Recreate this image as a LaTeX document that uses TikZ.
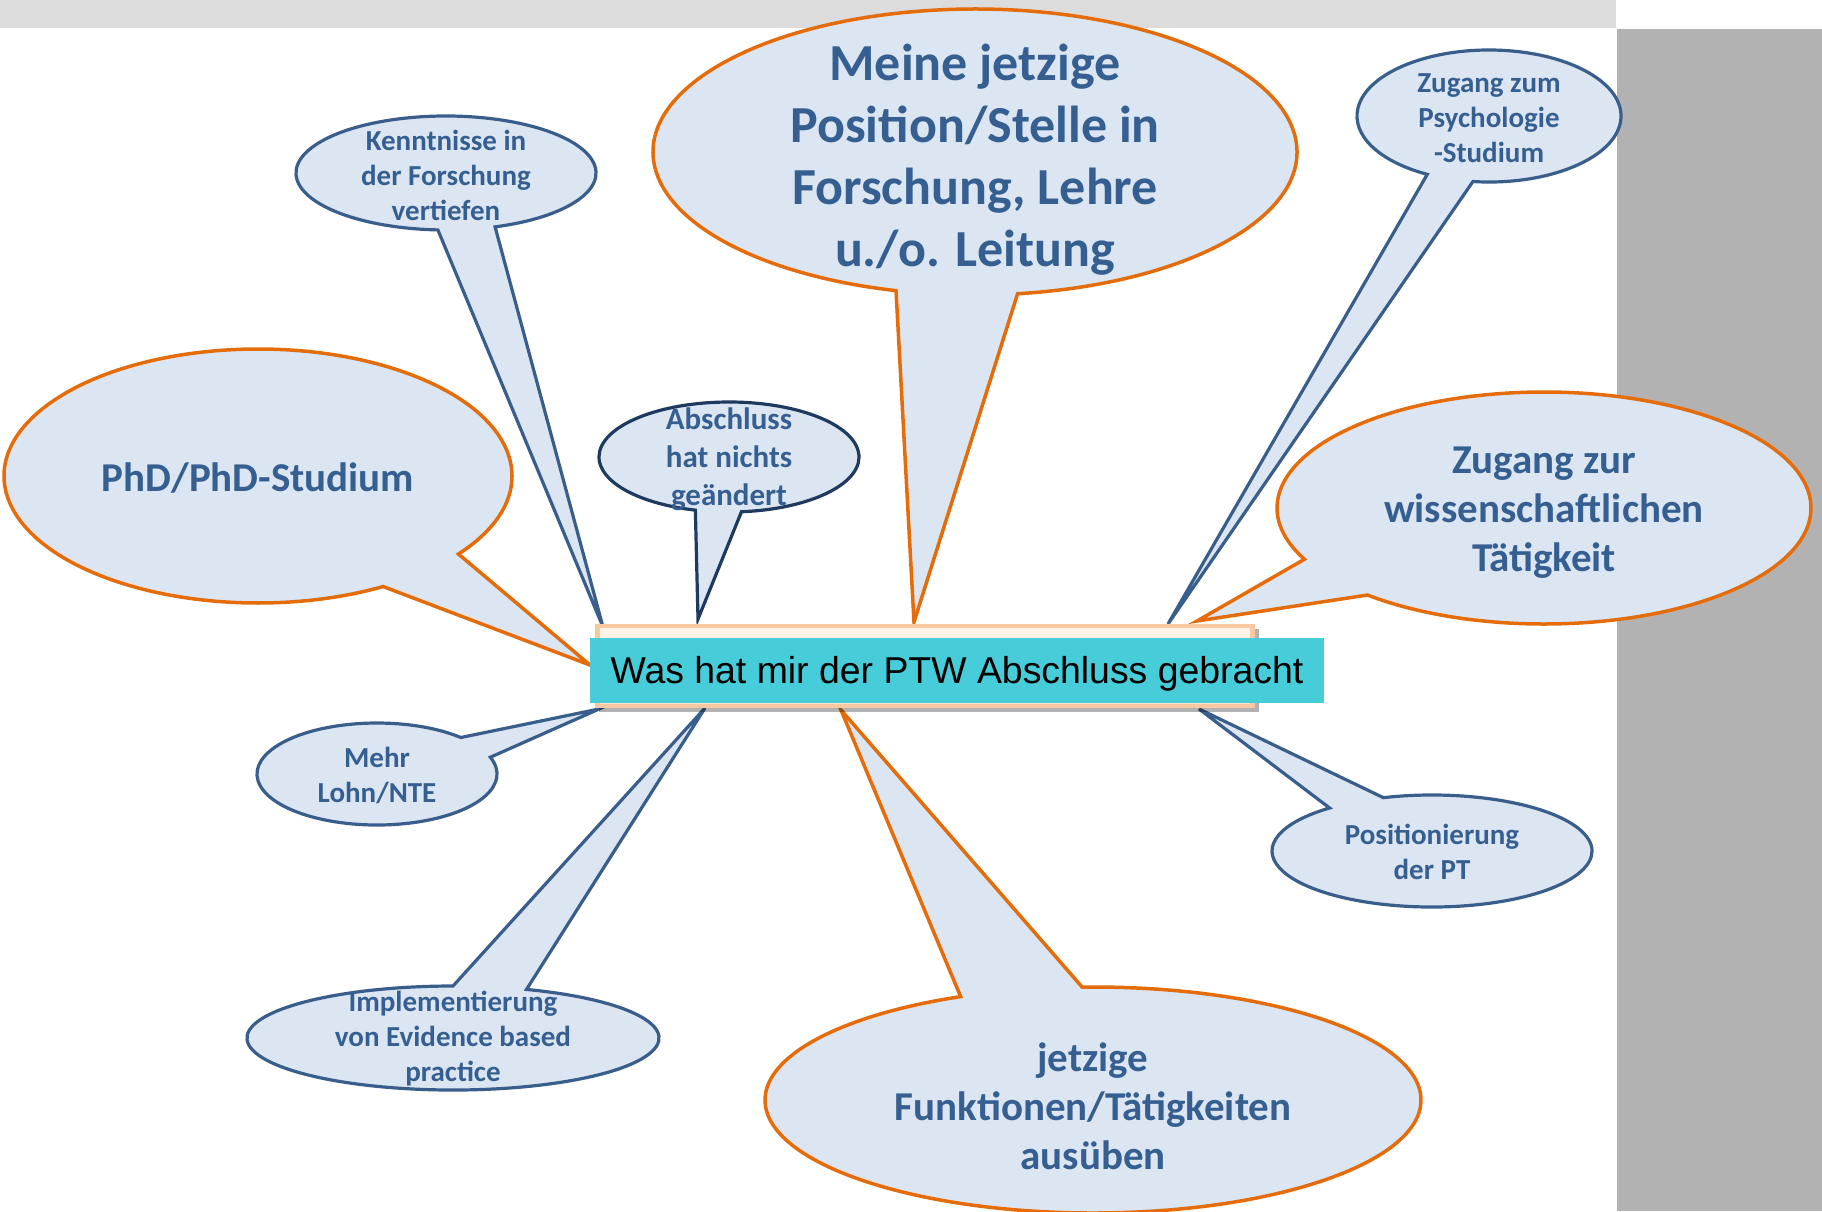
\documentclass[tikz,border=0pt]{standalone}
\usepackage{fontspec}
\setmainfont{Carlito}
\newfontfamily\arialfont{Liberation Sans}
\definecolor{bubfill}{HTML}{DCE6F2}
\definecolor{orangeline}{HTML}{E46C0A}
\definecolor{blueline}{HTML}{3A5E8C}
\definecolor{navyline}{HTML}{1F3A5F}
\definecolor{txtblue}{HTML}{365F91}
\definecolor{cyanbox}{HTML}{47CCDA}
\definecolor{topband}{HTML}{DCDCDC}
\definecolor{sidepanel}{HTML}{B2B2B2}
\definecolor{peachedge}{HTML}{F7C9A2}
\definecolor{peachlight}{HTML}{FFF3E8}
\definecolor{peachmid}{HTML}{FDE3CB}
\newcommand\bubble[7]{%
  \path[#1] (#2) ++(#5:#3 and #4) arc[start angle=#5,end angle=#6,x radius=#3,y radius=#4] -- (#7) -- cycle;}
\tikzset{
  obub/.style={fill=bubfill,draw=orangeline,line width=3.5pt,line join=miter},
  bbub/.style={fill=bubfill,draw=blueline,line width=3.2pt,line join=miter},
  nbub/.style={fill=bubfill,draw=navyline,line width=3.2pt,line join=miter},
  lblS/.style={inner sep=0pt,align=center,text=txtblue,font=\bfseries\fontsize{29}{35}\selectfont},
  lblA/.style={inner sep=0pt,align=center,text=txtblue,font=\bfseries\fontsize{31}{38}\selectfont},
  lblM/.style={inner sep=0pt,align=center,text=txtblue,font=\bfseries\fontsize{41}{49}\selectfont},
  lblL/.style={inner sep=0pt,align=center,text=txtblue,font=\bfseries\fontsize{52}{62}\selectfont},
}
\begin{document}
\begin{tikzpicture}[x=1pt,y=-1pt]
\useasboundingbox (0,0) rectangle (1822,1211);
\fill[white] (0,0) rectangle (1822,1211);
\fill[topband] (0,0) rectangle (1616,28);
\fill[sidepanel] (1617,29) rectangle (1822,1211);
% centres and tail tips
\coordinate (cMeine) at (975,152);
\coordinate (cPsy) at (1489,116);
\coordinate (cWiss) at (1544,508);
\coordinate (cPhD) at (258,476);
\coordinate (cKennt) at (446,173);
\coordinate (cAbs) at (729,457);
\coordinate (cLohn) at (377,774);
\coordinate (cImpl) at (453,1038);
\coordinate (cFunk) at (1093,1100);
\coordinate (cPos) at (1432,851);
\coordinate (tipMeine) at (914,622);
\coordinate (tipPsy) at (1168,624);
\coordinate (tipWiss) at (1197,621);
\coordinate (tipPhD) at (590,665);
\coordinate (tipKennt) at (603,627);
\coordinate (tipAbs) at (698,619);
\coordinate (tipLohn) at (599,709);
\coordinate (tipImpl) at (705,708);
\coordinate (tipFunk) at (841,710);
\coordinate (tipPos) at (1199,709);
% bubbles
\bubble{obub}{cMeine}{322}{143}{82.4}{-255.8}{tipMeine}
\bubble{bbub}{cPsy}{132}{66}{97}{-242.1}{tipPsy}
\bubble{obub}{cWiss}{267}{116}{131.4}{-206.2}{tipWiss}
\bubble{obub}{cPhD}{254}{127}{37.9}{-299.5}{tipPhD}
\bubble{bbub}{cKennt}{150}{57}{70.9}{-266.9}{tipKennt}
\bubble{nbub}{cAbs}{130}{55}{84.5}{-255}{tipAbs}
\bubble{bbub}{cLohn}{120}{51}{-19.2}{314.3}{tipLohn}
\bubble{bbub}{cImpl}{206}{52}{-69.1}{270}{tipImpl}
\bubble{obub}{cFunk}{328}{113}{-91.9}{246.2}{tipFunk}
\bubble{bbub}{cPos}{160}{56}{-107.7}{230.2}{tipPos}
% central box
\fill[black,opacity=0.3] (599,629) rectangle (1259,712);
\fill[peachedge] (595,624) rectangle (1255,708);
\shade[top color=peachlight,bottom color=peachmid] (600,628) rectangle (1250,703);
\node[fill=cyanbox,minimum width=734pt,minimum height=65pt,inner sep=0pt,anchor=north west] (box) at (590,638) {};
\node[inner sep=0pt,anchor=base,font=\arialfont\fontsize{37.4}{44}\selectfont] (boxtxt) at (957,683) {Was hat mir der PTW Abschluss gebracht};
% labels
\node[lblL] (tMeine) at (975,160) {Meine jetzige\\Position/Stelle in\\Forschung, Lehre\\u./o. Leitung};
\node[lblS] (tPsy) at (1489,118) {Zugang zum\\Psychologie\\-Studium};
\node[lblM] (tWiss) at (1544,513) {Zugang zur\\wissenschaftlichen\\Tätigkeit};
\node[lblM] (tPhD) at (258,478) {PhD/PhD-Studium};
\node[lblS] (tKennt) at (446,175) {Kenntnisse in\\der Forschung\\vertiefen};
\node[lblA] (tAbs) at (729,459) {Abschluss\\hat nichts\\geändert};
\node[lblS] (tLohn) at (377,775) {Mehr\\Lohn/NTE};
\node[lblS] (tImpl) at (453,1039) {Implementierung\\von Evidence based\\practice};
\node[lblM] (tFunk) at (1093,1106) {jetzige\\Funktionen/Tätigkeiten\\ausüben};
\node[lblS] (tPos) at (1432,852) {Positionierung\\der PT};
\end{tikzpicture}
\end{document}
